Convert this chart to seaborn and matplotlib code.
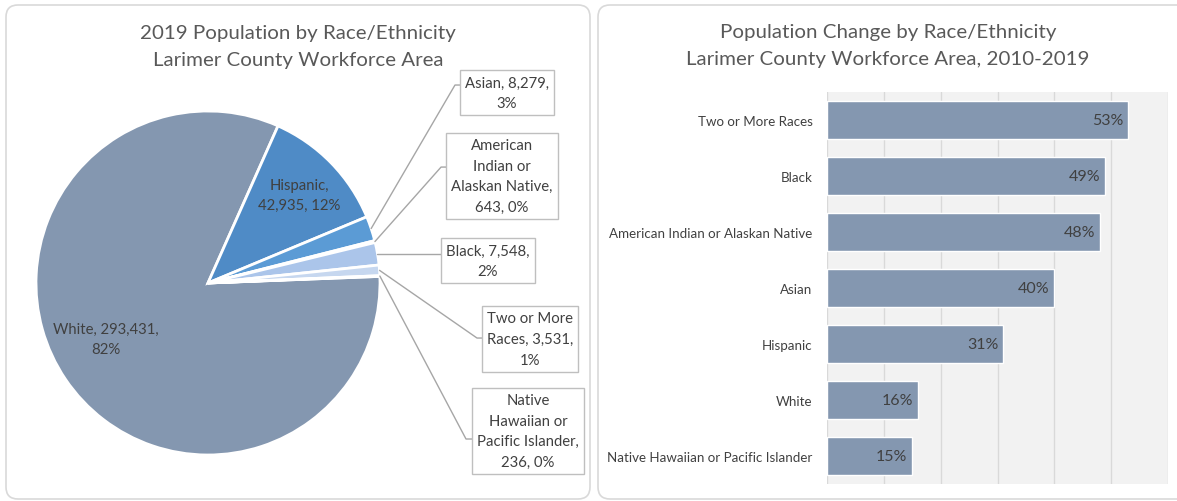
import numpy as np
import matplotlib
matplotlib.use("Agg")
import matplotlib.pyplot as plt
from matplotlib.patches import FancyBboxPatch
import seaborn as sns

# 饼图数据 (2019)
pie_groups = ["White", "Hispanic", "Asian", "American Indian or Alaskan Native",
              "Black", "Two or More Races", "Native Hawaiian or Pacific Islander"]
pie_counts = [293431, 42935, 8279, 643, 7548, 3531, 236]
pie_texts = ["White, 293,431,\n82%", "Hispanic,\n42,935, 12%", "Asian, 8,279,\n3%",
             "American\nIndian or\nAlaskan Native,\n643, 0%", "Black, 7,548,\n2%",
             "Two or More\nRaces, 3,531,\n1%", "Native\nHawaiian or\nPacific Islander,\n236, 0%"]
pie_colors = ["#8497B0", "#4F8BC6", "#5B9BD5", "#8FB5E0", "#ABC5EA", "#C6D7EF", "#DAE4F3"]

# 柱状图数据 (2010-2019 变化)
bar_groups = ["Two or More Races", "Black", "American Indian or Alaskan Native",
              "Asian", "Hispanic", "White", "Native Hawaiian or Pacific Islander"]
bar_change = [53, 49, 48, 40, 31, 16, 15]

sns.set_style("white")
plt.rcParams['font.family'] = ['Lato', 'DejaVu Sans']

fig = plt.figure(figsize=(11.77, 5.02), dpi=100)

# 两个面板的圆角边框
for x0, w in [(6, 584), (598, 600)]:
    fig.patches.append(FancyBboxPatch((x0, 2), w, 494, boxstyle="round,pad=0,rounding_size=12",
                                      transform=None, fc="white", ec="#D9D9D9", lw=1.2, zorder=-5))

title_kw = dict(ha="center", va="center", fontsize=14.75, color="#595959", linespacing=1.65)
fig.text(298 / 1177, 1 - 47 / 502, "2019 Population by Race/Ethnicity\nLarimer County Workforce Area", **title_kw)
fig.text(888 / 1177, 1 - 46 / 502, "Population Change by Race/Ethnicity\nLarimer County Workforce Area, 2010-2019", **title_kw)

# ---- 饼图 ----
ax1 = fig.add_axes([36 / 1177, 46 / 502, 344 / 1177, 344 / 502])
wedges, _ = ax1.pie(pie_counts, colors=pie_colors, startangle=2.2, counterclock=False,
                    wedgeprops=dict(edgecolor="white", linewidth=2))
ax1.set_xlim(-1, 1)
ax1.set_ylim(-1, 1)
ax1.set_aspect("equal")
ax1.axis("off")

lab_kw = dict(ha="center", va="center", fontsize=10.7, color="#404040", linespacing=1.6)
ax1.text(-0.593, -0.326, pie_texts[0], **lab_kw)
ax1.text(0.529, 0.512, pie_texts[1], **lab_kw)

# 小扇区的标签框：(折点, 框中心)
callouts = {2: ((1.436, 1.151), (1.738, 1.105)),
            3: ((1.355, 0.674), (1.709, 0.622)),
            4: ((1.36, None), (1.628, 0.128)),
            5: ((1.564, -0.320), (1.872, -0.326)),
            6: ((1.50, -0.907), (1.860, -0.860))}
for i, ((ex, ey), (bx, by)) in callouts.items():
    w = wedges[i]
    mid = np.deg2rad((w.theta1 + w.theta2) / 2)
    px, py = np.cos(mid), np.sin(mid)
    if ey is None:
        ey = py
    ax1.plot([px, ex, bx], [py, ey, ey], color="#A6A6A6", lw=1, clip_on=False, zorder=3)
    ax1.text(bx, by, pie_texts[i], zorder=5, clip_on=False,
             bbox=dict(boxstyle="square,pad=0.35", fc="white", ec="#BFBFBF", lw=1), **lab_kw)

# ---- 柱状图 ----
ax2 = fig.add_axes([827 / 1177, 17 / 502, 341 / 1177, 392 / 502])
sns.barplot(x=bar_change, y=bar_groups, color="#8497B0", width=0.68, saturation=1, ax=ax2)
ax2.set_facecolor("#F2F2F2")
ax2.set_xlim(0, 60)
ax2.set_xticks(range(0, 61, 10))
ax2.set_xticklabels([])
ax2.set_axisbelow(True)
ax2.xaxis.grid(True, color="#D9D9D9", lw=1)
ax2.tick_params(axis="both", length=0)
ax2.tick_params(axis="y", pad=10.5, labelsize=9.6, labelcolor="#404040")
ax2.set_xlabel("")
ax2.set_ylabel("")
for s in ax2.spines.values():
    s.set_visible(False)
for i, v in enumerate(bar_change):
    ax2.annotate(f"{v}%", (v, i), xytext=(-3.5, 0), textcoords="offset points",
                 ha="right", va="center", fontsize=11.5, color="#404040")

fig.savefig("out.png", dpi=100)
